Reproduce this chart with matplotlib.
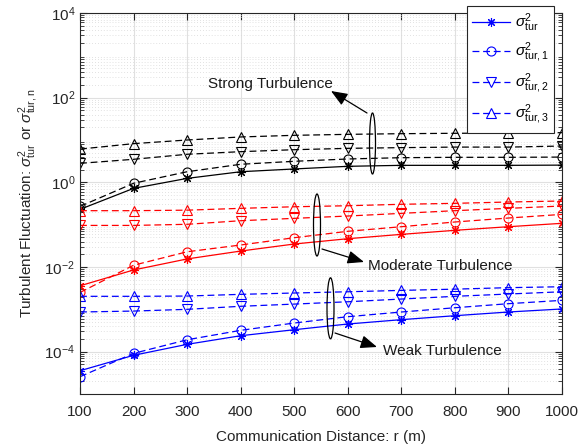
import numpy as np
import matplotlib
matplotlib.use("Agg")
import matplotlib.pyplot as plt
from matplotlib.patches import Ellipse
from matplotlib.ticker import LogLocator, NullFormatter, FixedLocator

plt.rcParams['font.family'] = ['Liberation Sans', 'DejaVu Sans']
plt.rcParams['mathtext.fontset'] = 'custom'
plt.rcParams['mathtext.rm'] = 'Liberation Sans'
plt.rcParams['mathtext.it'] = 'Liberation Sans:italic'
plt.rcParams['mathtext.bf'] = 'Liberation Sans:bold'

# ---------------- data ----------------
distance = [100, 200, 300, 400, 500, 600, 700, 800, 900, 1000]

strong_tur = [0.23, 0.72, 1.24, 1.78, 2.07, 2.39, 2.52, 2.52, 2.52, 2.55]
strong_tur1 = [0.27, 0.95, 1.78, 2.67, 3.14, 3.56, 3.82, 3.9, 3.9, 3.95]
strong_tur2 = [2.81, 3.5, 4.6, 5.3, 5.9, 6.35, 6.6, 6.8, 6.8, 7.2]
strong_tur3 = [6.1, 8.2, 10.0, 11.8, 12.9, 13.6, 14.1, 14.4, 14.6, 14.9]

moderate_tur = [0.0036, 0.0085, 0.0155, 0.0238, 0.0349, 0.0466, 0.059, 0.0735, 0.0895, 0.1076]
moderate_tur1 = [0.0025, 0.011, 0.0229, 0.0331, 0.0492, 0.0697, 0.0895, 0.1156, 0.1436, 0.175]
moderate_tur2 = [0.096, 0.096, 0.102, 0.124, 0.141, 0.16, 0.185, 0.214, 0.243, 0.276]
moderate_tur3 = [0.214, 0.214, 0.22, 0.243, 0.265, 0.28, 0.303, 0.319, 0.343, 0.362]

weak_tur = [3.55e-5, 8.2e-5, 1.49e-4, 2.38e-4, 3.3e-4, 4.5e-4, 5.7e-4, 7.07e-4, 8.65e-4, 1.02e-3]
weak_tur1 = [2.56e-5, 9.1e-5, 1.91e-4, 3.19e-4, 4.75e-4, 6.7e-4, 8.65e-4, 1.09e-3, 1.36e-3, 1.63e-3]
weak_tur2 = [8.65e-4, 9.1e-4, 1.0e-3, 1.18e-3, 1.33e-3, 1.51e-3, 1.75e-3, 2.03e-3, 2.3e-3, 2.6e-3]
weak_tur3 = [2.03e-3, 2.03e-3, 2.06e-3, 2.26e-3, 2.43e-3, 2.6e-3, 2.8e-3, 3.0e-3, 3.25e-3, 3.42e-3]

legend_labels = [r'$\sigma^2_{\mathrm{tur}}$', r'$\sigma^2_{\mathrm{tur,1}}$',
                 r'$\sigma^2_{\mathrm{tur,2}}$', r'$\sigma^2_{\mathrm{tur,3}}$']
x_ticks = [100, 200, 300, 400, 500, 600, 700, 800, 900, 1000]

# ---------------- figure ----------------
W, H = 582, 448
fig = plt.figure(figsize=(W / 100, H / 100), dpi=100)
ax = fig.add_axes([80 / W, (H - 394) / H, (562 - 80) / W, (394 - 13) / H])

groups = [
    ('black', [strong_tur, strong_tur1, strong_tur2, strong_tur3]),
    ('red', [moderate_tur, moderate_tur1, moderate_tur2, moderate_tur3]),
    ('blue', [weak_tur, weak_tur1, weak_tur2, weak_tur3]),
]
styles = [('-', (8, 2, 0)), ('--', 'o'), ('--', 'v'), ('--', '^')]
handles = {}
for color, series in groups:
    for i, (vals, (ls, mk)) in enumerate(zip(series, styles)):
        kw = dict(dashes=(5.5, 3)) if ls == '--' else {}
        h, = ax.plot(distance, vals, linestyle=ls, marker=mk, color=color,
                     markerfacecolor='none', markersize=6.5,
                     markeredgewidth=0.8, linewidth=0.9, **kw)
        if color == 'blue':
            handles[i] = h

ax.set_yscale('log')
ax.set_xlim(100, 1000)
ax.set_ylim(1e-5, 1e4)
ax.xaxis.set_major_locator(FixedLocator(x_ticks))
ax.yaxis.set_major_locator(FixedLocator([1e-4, 1e-2, 1e0, 1e2, 1e4]))
ax.yaxis.set_minor_locator(LogLocator(base=10, subs=np.arange(2, 10), numticks=20))
ax.yaxis.set_minor_formatter(NullFormatter())

ax.grid(True, which='major', color='#e0e0e0', linewidth=0.8, linestyle='-')
ax.grid(True, which='minor', axis='y', color='#d8d8d8', linewidth=0.6, linestyle=(0, (1, 2.5)))
ax.set_axisbelow(True)
ax.tick_params(which='both', direction='in', top=True, right=True, labelsize=11, colors='#262626')
ax.tick_params(axis='x', pad=8)
ax.tick_params(which='major', length=5)
ax.tick_params(which='minor', length=3)
for sp in ax.spines.values():
    sp.set_color('#262626')
    sp.set_linewidth(0.8)

ax.set_xlabel('Communication Distance: r (m)', fontsize=11, color='#262626', labelpad=8)
ax.set_ylabel(r'Turbulent Fluctuation: $\sigma^2_{\mathrm{tur}}$ or $\sigma^2_{\mathrm{tur,n}}$',
              fontsize=11, color='#262626', labelpad=2)

# legend
leg = ax.legend([handles[i] for i in range(4)], legend_labels, loc='upper right',
                bbox_to_anchor=((554 - 80) / (562 - 80), (394 - 6) / (394 - 13)),
                borderaxespad=0, fontsize=11, frameon=True, fancybox=False, framealpha=1,
                edgecolor='#262626', handlelength=2.5, borderpad=0.35, labelspacing=0.45,
                handletextpad=0.3)
leg.get_frame().set_linewidth(0.8)


def pix2ax(px, py):
    return ((px - 80) / (562 - 80), (394 - py) / (394 - 13))


# Ellipses (axes fraction coords from pixel estimates)
for (cx, cy, w, h) in [(372.5, 143.5, 6, 61), (317, 225, 7, 62), (330.5, 308.3, 7, 61)]:
    e = Ellipse(pix2ax(cx, cy), w / 482, h / 381, transform=ax.transAxes, fill=False,
                edgecolor='black', linewidth=0.9, zorder=5)
    ax.add_patch(e)

arrow_kw = dict(arrowstyle='-|>,head_length=1.0,head_width=0.4', color='black', lw=0.9,
                shrinkA=0, shrinkB=0)
# Strong
ax.annotate('', xy=pix2ax(331, 91), xytext=pix2ax(367, 113), xycoords='axes fraction',
            textcoords='axes fraction', arrowprops=arrow_kw, zorder=6)
ax.text(*pix2ax(270, 84), 'Strong Turbulence', transform=ax.transAxes, ha='center', va='center',
        fontsize=11, color='#1a1a1a', zorder=6)
# Moderate
ax.annotate('', xy=pix2ax(364, 262), xytext=pix2ax(322, 249), xycoords='axes fraction',
            textcoords='axes fraction', arrowprops=arrow_kw, zorder=6)
ax.text(*pix2ax(368, 266), 'Moderate Turbulence', transform=ax.transAxes, ha='left', va='center',
        fontsize=11, color='#1a1a1a', zorder=6)
# Weak
ax.annotate('', xy=pix2ax(377, 347), xytext=pix2ax(335, 333), xycoords='axes fraction',
            textcoords='axes fraction', arrowprops=arrow_kw, zorder=6)
ax.text(*pix2ax(383, 351), 'Weak Turbulence', transform=ax.transAxes, ha='left', va='center',
        fontsize=11, color='#1a1a1a', zorder=6)

fig.savefig('out.png', dpi=100)
